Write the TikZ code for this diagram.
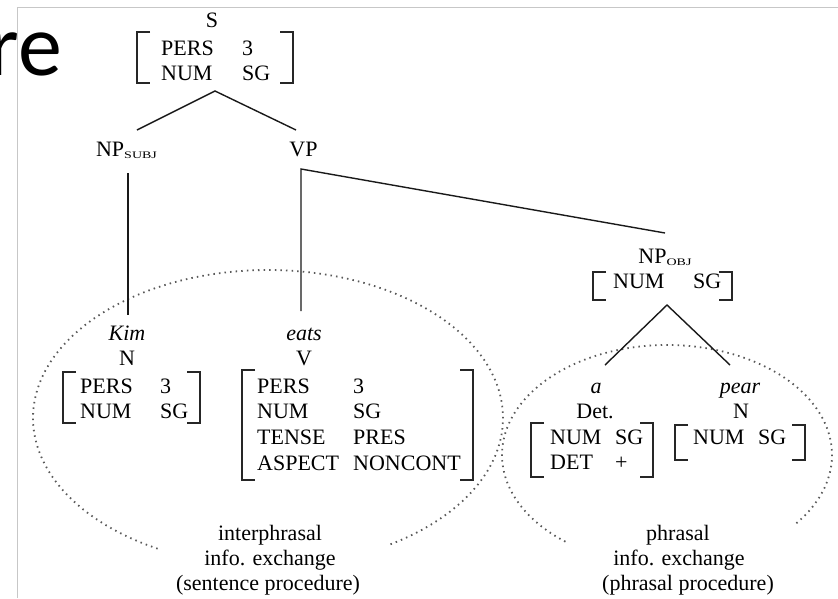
\documentclass[tikz,border=0pt]{standalone}
\usepackage{fontspec}
\usepackage{array}
\usepackage{graphicx}
\setmainfont{Liberation Serif}
\newfontfamily\slidefont{Carlito}

% feature-structure brackets around an attribute-value matrix
\def\avmbrackets(#1,#2)(#3,#4){%
  \draw[brk] (#1+13,#2) -- (#1,#2) -- (#1,#4) -- (#1+13,#4);
  \draw[brk] (#3-13,#2) -- (#3,#2) -- (#3,#4) -- (#3-13,#4);}
% small stretched category subscript
\newcommand\catsub[1]{\raisebox{-2pt}{\scalebox{1.4}[1]{\fontsize{10}{10}\selectfont #1}}}
% attribute-value table with a fixed attribute column
\newcommand\avmtab[2]{\begin{tabular}[t]{@{}w{l}{#1pt}@{}l@{}}#2\end{tabular}}

\tikzset{
  lbl/.style={font=\fontsize{22}{25.7}\selectfont, inner sep=0pt, anchor=base},
  avm/.style={lbl, anchor=base west},
  brk/.style={line width=1.6pt, draw=black!85},
  branch/.style={line width=1.4pt, draw=black!90},
  region/.style={line width=1.8pt, draw=black!65, dash pattern=on 1.5pt off 4.1pt},
  frame/.style={line width=1.6pt, draw=black!22},
}

\begin{document}
\begin{tikzpicture}[x=1pt, y=-1pt]
\useasboundingbox (0,0) rectangle (838,598);
\clip (0,0) rectangle (838,598);

% slide frame and title fragment
\draw[frame] (17.5,598) -- (17.5,7.5) -- (838,7.5);
\node[anchor=base east, inner sep=0pt, font=\slidefont\fontsize{88}{88}\selectfont] (title) at (62,75) {re};

% processing regions
\draw[region] plot[domain=118:419, samples=240, smooth] ({268+235*cos(\x)}, {418+148*sin(\x)});
\draw[region] plot[domain=128:400, samples=200, smooth] ({667+165*cos(\x)}, {455+110*sin(\x)});

% sentence node
\node[lbl] (S) at (212,27) {S};
\node[avm] (Sf) at (161,55) {\avmtab{81}{PERS & 3\\ NUM & SG}};
\avmbrackets(137,32)(293,83)

% phrase nodes
\node[lbl] (NPs) at (126.5,156) {NP\catsub{SUBJ}};
\node[lbl] (VP) at (303.5,156) {VP};
\node[lbl] (NPo) at (665,263) {NP\catsub{OBJ}};
\node[avm] (NPof) at (613,288) {\avmtab{80}{NUM & SG}};
\avmbrackets(593,272)(732,300)

% words
\node[lbl] (kim) at (127,340) {\textit{Kim}};
\node[lbl] (kimc) at (127,365) {N};
\node[avm] (kimf) at (80,393) {\avmtab{80}{PERS & 3\\ NUM & SG}};
\avmbrackets(63,372)(200,423)

\node[lbl] (eats) at (304,340) {\textit{eats}};
\node[lbl] (eatsc) at (304,365) {V};
\node[avm] (eatsf) at (257,393) {\avmtab{96}{PERS & 3\\ NUM & SG\\ TENSE & PRES\\ ASPECT & NONCONT}};
\avmbrackets(242,370)(473,480)

\node[lbl] (det) at (596,393) {\textit{a}};
\node[lbl] (detc) at (595,418) {Det.};
\node[avm] (detf) at (550,444) {\avmtab{65}{NUM & SG\\ DET & +}};
\avmbrackets(531,423)(653,477)

\node[lbl] (pear) at (740,393) {\textit{pear}};
\node[lbl] (pearc) at (741,418) {N};
\node[avm] (pearf) at (693,444) {\avmtab{65}{NUM & SG}};
\avmbrackets(675,425)(805,460)

% region captions
\node[lbl] (ip1) at (270,540) {interphrasal};
\node[lbl] (ip2) at (270,565) {info. exchange};
\node[lbl] (ip3) at (268,590) {(sentence procedure)};
\node[lbl] (ph1) at (678,540) {phrasal};
\node[lbl] (ph2) at (679,565) {info. exchange};
\node[lbl] (ph3) at (688,590) {(phrasal procedure)};

% branch end points
\coordinate (Sfoot) at (215,91);
\coordinate (NPsTop) at (137,130);
\coordinate (VPTop) at (296,130);
\coordinate (NPsFoot) at (128,173);
\coordinate (kimTop) at (128,315);
\coordinate (VPFoot) at (301,169);
\coordinate (eatsTop) at (301,311);
\coordinate (NPoTop) at (665,233);
\coordinate (NPoFoot) at (667,305);
\coordinate (detTop) at (605,365);
\coordinate (pearTop) at (730,365);

% branches
\draw[branch] (NPsTop) -- (Sfoot) -- (VPTop);
\draw[branch] (NPsFoot) -- (kimTop);
\draw[branch] (eatsTop) -- (VPFoot) -- (NPoTop);
\draw[branch] (detTop) -- (NPoFoot) -- (pearTop);
\end{tikzpicture}
\end{document}
